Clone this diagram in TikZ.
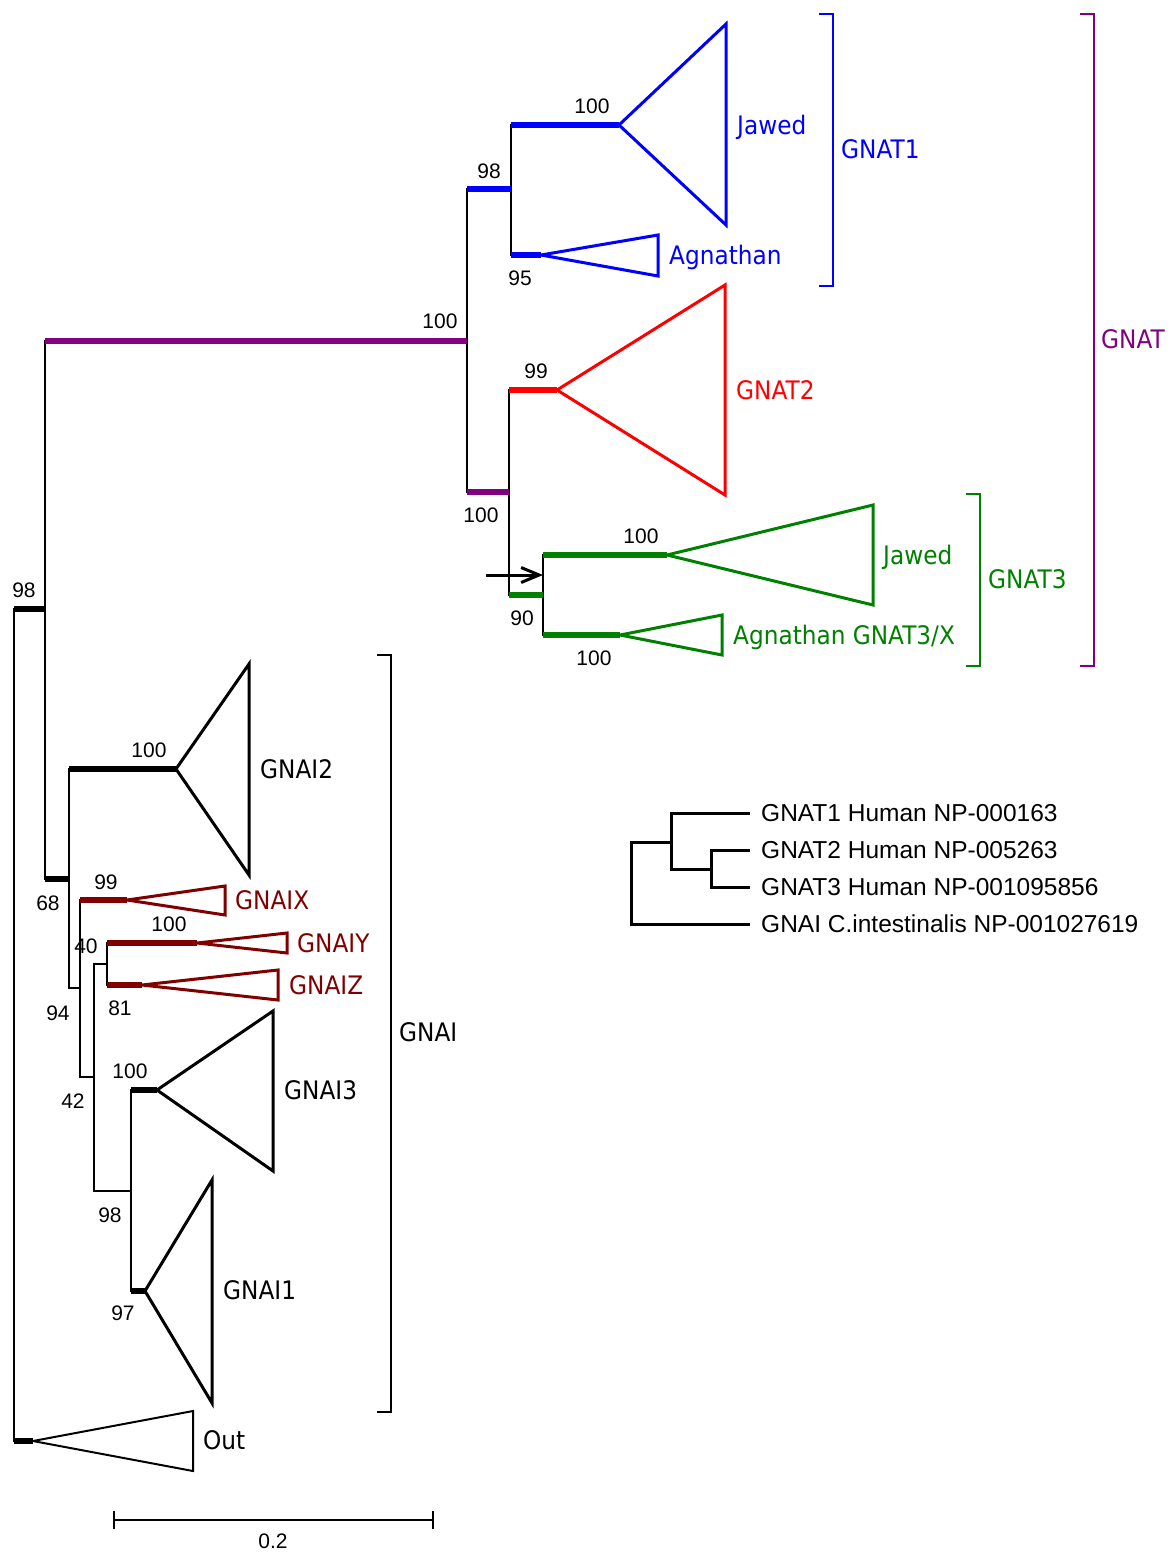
\documentclass[tikz,border=0pt]{standalone}
\usepackage{fontspec}
\setmainfont{Liberation Sans}
\newfontfamily\labfamily[FakeStretch=0.91]{DejaVu Sans}
\usetikzlibrary{arrows.meta}
\definecolor{cblue}{RGB}{0,0,255}
\definecolor{cred}{RGB}{255,0,0}
\definecolor{cgreen}{RGB}{0,128,0}
\definecolor{cdred}{RGB}{128,0,0}
\definecolor{cpurple}{RGB}{128,0,128}
\tikzset{
  vline/.style={line width=2pt, line cap=rect},
  br/.style={line width=5.5pt},
  thinbr/.style={line width=2pt},
  tri/.style={line width=3pt, line join=miter},
  brk/.style={line width=2pt, line join=miter},
  num/.style={font=\fontsize{21pt}{25pt}\selectfont, anchor=base, inner sep=0pt, yshift=-7.5pt},
  lab/.style={font=\labfamily\fontsize{25.5pt}{30pt}\selectfont, anchor=base west, inner sep=0pt, yshift=-9.3pt},
  leg/.style={font=\fontsize{24.5pt}{28pt}\selectfont, anchor=base west, inner sep=0pt, yshift=-8.8pt},
  legline/.style={line width=3pt, line cap=rect}
}
\begin{document}
\begin{tikzpicture}[x=1pt,y=-1pt]
\useasboundingbox (0,0) rectangle (1171,1553);
% ---------- internal nodes ----------
\coordinate (R) at (14,1025);
\coordinate (A) at (45,609);
\coordinate (GT) at (467,341);
\coordinate (T1) at (511,189);
\coordinate (T23) at (509,492);
\coordinate (T3) at (543,595);
\coordinate (B) at (69,879);
\coordinate (C) at (80,988);
\coordinate (D) at (94,1077);
\coordinate (YZ) at (107,964);
\coordinate (E) at (131,1191);
% ---------- clade triangles (apex, top, bottom) ----------
\coordinate (JBa) at (619,125); \coordinate (JBt) at (726,24);  \coordinate (JBb) at (726,225);
\coordinate (ABa) at (541,255); \coordinate (ABt) at (658,235); \coordinate (ABb) at (658,276);
\coordinate (T2a) at (557,390); \coordinate (T2t) at (725,285); \coordinate (T2b) at (725,495);
\coordinate (JGa) at (667,555); \coordinate (JGt) at (873,505); \coordinate (JGb) at (873,605);
\coordinate (AGa) at (620,635); \coordinate (AGt) at (722,615); \coordinate (AGb) at (722,655);
\coordinate (I2a) at (176,769); \coordinate (I2t) at (249,664); \coordinate (I2b) at (249,875);
\coordinate (IXa) at (127,900); \coordinate (IXt) at (225,886); \coordinate (IXb) at (225,915);
\coordinate (IYa) at (197,943); \coordinate (IYt) at (287,933); \coordinate (IYb) at (287,953);
\coordinate (IZa) at (142,985); \coordinate (IZt) at (278,970); \coordinate (IZb) at (278,1000);
\coordinate (I3a) at (157,1090); \coordinate (I3t) at (273,1011); \coordinate (I3b) at (273,1171);
\coordinate (I1a) at (145,1291); \coordinate (I1t) at (212,1180); \coordinate (I1b) at (212,1403);
\coordinate (Oa) at (33,1441);  \coordinate (Ot) at (193,1411); \coordinate (Ob) at (193,1471);
% ---------- vertical connectors ----------
\draw[vline] (R |- A) -- (R |- Oa);
\draw[vline] (A |- GT) -- (A |- B);
\draw[vline] (GT |- T1) -- (GT |- T23);
\draw[vline] (T1 |- JBa) -- (T1 |- ABa);
\draw[vline] (T23 |- T2a) -- (T23 |- T3);
\draw[vline] (T3 |- JGa) -- (T3 |- AGa);
\draw[vline] (B |- I2a) -- (B |- C);
\draw[vline] (C |- IXa) -- (C |- D);
\draw[vline] (D |- YZ) -- (D |- E);
\draw[vline] (YZ |- IYa) -- (YZ |- IZa);
\draw[vline] (E |- I3a) -- (E |- I1a);
% ---------- horizontal branches ----------
\draw[br] (R |- A) -- (A);
\draw[br] (R |- Oa) -- (Oa);
\draw[br, cpurple] (A |- GT) -- (GT);
\draw[br] (A |- B) -- (B);
\draw[br, cblue] (GT |- T1) -- (T1);
\draw[br, cpurple] (GT |- T23) -- (T23);
\draw[br, cblue] (T1 |- JBa) -- (JBa);
\draw[br, cblue] (T1 |- ABa) -- (ABa);
\draw[br, cred] (T23 |- T2a) -- (T2a);
\draw[br, cgreen] (T23 |- T3) -- (T3);
\draw[br, cgreen] (T3 |- JGa) -- (JGa);
\draw[br, cgreen] (T3 |- AGa) -- (AGa);
\draw[br] (B |- I2a) -- (I2a);
\draw[thinbr] (B |- C) -- (C);
\draw[br, cdred] (C |- IXa) -- (IXa);
\draw[thinbr] (C |- D) -- (D);
\draw[thinbr] (D |- YZ) -- (YZ);
\draw[thinbr] (D |- E) -- (E);
\draw[br, cdred] (YZ |- IYa) -- (IYa);
\draw[br, cdred] (YZ |- IZa) -- (IZa);
\draw[br] (E |- I3a) -- (I3a);
\draw[br] (E |- I1a) -- (I1a);
% ---------- triangles ----------
\draw[tri, cblue] (JBa) -- (JBt) -- (JBb) -- cycle;
\draw[tri, cblue] (ABa) -- (ABt) -- (ABb) -- cycle;
\draw[tri, cred] (T2a) -- (T2t) -- (T2b) -- cycle;
\draw[tri, cgreen] (JGa) -- (JGt) -- (JGb) -- cycle;
\draw[tri, cgreen] (AGa) -- (AGt) -- (AGb) -- cycle;
\draw[tri] (I2a) -- (I2t) -- (I2b) -- cycle;
\draw[tri, cdred] (IXa) -- (IXt) -- (IXb) -- cycle;
\draw[tri, cdred] (IYa) -- (IYt) -- (IYb) -- cycle;
\draw[tri, cdred] (IZa) -- (IZt) -- (IZb) -- cycle;
\draw[tri] (I3a) -- (I3t) -- (I3b) -- cycle;
\draw[tri] (I1a) -- (I1t) -- (I1b) -- cycle;
\draw[tri, line width=2pt] (Oa) -- (Ot) -- (Ob) -- cycle;
% ---------- arrow ----------
\coordinate (arS) at (486,575);
\draw[line width=3pt, -{Straight Barb[length=18pt,width=15pt,line width=3pt]}] (arS) -- (T3 |- arS);
% ---------- clade labels ----------
\node[lab, cblue] (lJB) at (737,125) {Jawed};
\node[lab, cblue] (lAB) at (669,255) {Agnathan};
\node[lab, cred] (lT2) at (736,390) {GNAT2};
\node[lab, cgreen] (lJG) at (883,555) {Jawed};
\node[lab, cgreen] (lAG) at (733,635) {Agnathan GNAT3/X};
\node[lab] (lI2) at (260,769) {GNAI2};
\node[lab, cdred] (lIX) at (235,900) {GNAIX};
\node[lab, cdred] (lIY) at (297,943) {GNAIY};
\node[lab, cdred] (lIZ) at (289,985) {GNAIZ};
\node[lab] (lI3) at (284,1090) {GNAI3};
\node[lab] (lI1) at (223,1290) {GNAI1};
\node[lab] (lOut) at (203,1440) {Out};
% ---------- brackets ----------
\coordinate (b1t) at (833,14);  \coordinate (b1b) at (833,286);
\draw[brk, cblue] ([xshift=-14pt]b1t) -- (b1t) -- (b1b) -- ([xshift=-14pt]b1b);
\node[lab, cblue] (lGNAT1) at (841,149) {GNAT1};
\coordinate (b3t) at (980,494); \coordinate (b3b) at (980,666);
\draw[brk, cgreen] ([xshift=-14pt]b3t) -- (b3t) -- (b3b) -- ([xshift=-14pt]b3b);
\node[lab, cgreen] (lGNAT3) at (988,579) {GNAT3};
\coordinate (bGt) at (1094,14); \coordinate (bGb) at (1094,666);
\draw[brk, cpurple] ([xshift=-14pt]bGt) -- (bGt) -- (bGb) -- ([xshift=-14pt]bGb);
\node[lab, cpurple] (lGNAT) at (1101,339) {GNAT};
\coordinate (bIt) at (391,655); \coordinate (bIb) at (391,1412);
\draw[brk] ([xshift=-14pt]bIt) -- (bIt) -- (bIb) -- ([xshift=-14pt]bIb);
\node[lab] (lGNAI) at (399,1032) {GNAI};
% ---------- support values ----------
\node[num] (s1) at (24,590) {98};
\node[num] (s2) at (440,321) {100};
\node[num] (s3) at (489,171) {98};
\node[num] (s4) at (592,106) {100};
\node[num] (s5) at (520,278) {95};
\node[num] (s6) at (481,515) {100};
\node[num] (s7) at (536,371) {99};
\node[num] (s8) at (522,618) {90};
\node[num] (s9) at (641,536) {100};
\node[num] (s10) at (594,658) {100};
\node[num] (s11) at (149,750) {100};
\node[num] (s12) at (48,903) {68};
\node[num] (s13) at (106,882) {99};
\node[num] (s14) at (169,924) {100};
\node[num] (s15) at (86,946) {40};
\node[num] (s16) at (120,1008) {81};
\node[num] (s17) at (58,1013) {94};
\node[num] (s18) at (73,1101) {42};
\node[num] (s19) at (130,1071) {100};
\node[num] (s20) at (110,1215) {98};
\node[num] (s21) at (123,1313) {97};
% ---------- scale bar ----------
\coordinate (sbL) at (114,1520); \coordinate (sbR) at (433,1520);
\draw[line width=2pt] (sbL) -- (sbR);
\draw[line width=2pt] ([yshift=9pt]sbL) -- ([yshift=-9pt]sbL);
\draw[line width=2pt] ([yshift=9pt]sbR) -- ([yshift=-9pt]sbR);
\node[num] (sbl) at (273,1541) {0.2};
% ---------- legend tree ----------
\coordinate (Lr) at (631,884);
\coordinate (La) at (671,842);
\coordinate (Lb) at (711,869);
\node[leg] (L1) at (761,813) {GNAT1 Human NP-000163};
\node[leg] (L2) at (761,850) {GNAT2 Human NP-005263};
\node[leg] (L3) at (761,887) {GNAT3 Human NP-001095856};
\node[leg] (L4) at (761,924) {GNAI C.intestinalis NP-001027619};
\draw[legline] (Lr |- La) -- (Lr |- L4.west);
\draw[legline] (Lr |- La) -- (La);
\draw[legline] (Lr |- L4.west) -- ([xshift=-13pt]L4.west);
\draw[legline] (La |- L1.west) -- (La |- Lb);
\draw[legline] (La |- L1.west) -- ([xshift=-13pt]L1.west);
\draw[legline] (La |- Lb) -- (Lb);
\draw[legline] (Lb |- L2.west) -- (Lb |- L3.west);
\draw[legline] (Lb |- L2.west) -- ([xshift=-13pt]L2.west);
\draw[legline] (Lb |- L3.west) -- ([xshift=-13pt]L3.west);
\end{tikzpicture}
\end{document}
